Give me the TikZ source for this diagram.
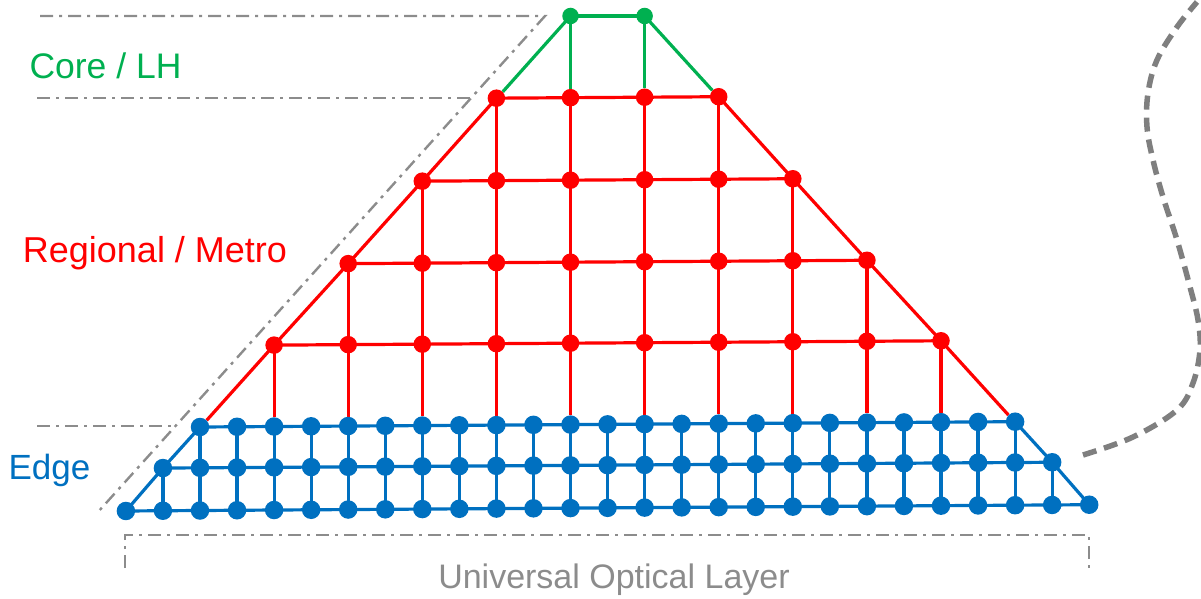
\documentclass[tikz,border=0pt]{standalone}
\usepackage{fontspec}
\setmainfont{Liberation Sans}
\usetikzlibrary{backgrounds}
\definecolor{cgreen}{HTML}{00B050}
\definecolor{cred}{HTML}{FF0000}
\definecolor{cblue}{HTML}{0070C0}
\definecolor{cgray}{HTML}{8C8C8C}
\definecolor{cdgray}{HTML}{7F7F7F}
\tikzset{
  bdot/.style={circle,fill=cblue,inner sep=0pt,minimum size=18.5pt},
  rdot/.style={circle,fill=cred,inner sep=0pt,minimum size=17.5pt},
  gdot/.style={circle,fill=cgreen,inner sep=0pt,minimum size=16.5pt},
  bline/.style={draw=cblue,line width=3.2pt},
  rline/.style={draw=cred,line width=3.2pt},
  gline/.style={draw=cgreen,line width=3.2pt},
  ddline/.style={draw=cgray,line width=2.4pt,dash pattern=on 13pt off 6pt on 3pt off 6pt},
  curveline/.style={draw=cdgray,line width=5.5pt,dash pattern=on 14pt off 8pt},
  lbl/.style={inner sep=0pt,anchor=center},
}
\begin{document}
\begin{tikzpicture}[x=1pt,y=-1pt]
\useasboundingbox (0,0) rectangle (1201,599);
% blue rows
\foreach \k in {2,...,24}{
  \pgfmathsetmacro\xx{125.9+37.05*\k}
  \pgfmathsetmacro\yy{424.4-0.0065*(\xx-600)}
  \node[bdot] (bA-\k) at (\xx,\yy) {};}
\foreach \k in {1,...,25}{
  \pgfmathsetmacro\xx{125.9+37.05*\k}
  \pgfmathsetmacro\yy{465.2-0.0065*(\xx-600)}
  \node[bdot] (bB-\k) at (\xx,\yy) {};}
\foreach \k in {0,...,26}{
  \pgfmathsetmacro\xx{125.9+37.05*\k}
  \pgfmathsetmacro\yy{507.9-0.0065*(\xx-600)}
  \node[bdot] (bC-\k) at (\xx,\yy) {};}
% red rows
\foreach \k in {4,6,...,22}{
  \pgfmathsetmacro\xx{125.9+37.05*\k}
  \pgfmathsetmacro\yy{343-0.0065*(\xx-600)}
  \node[rdot] (rA-\k) at (\xx,\yy) {};}
\foreach \k in {6,8,...,20}{
  \pgfmathsetmacro\xx{125.9+37.05*\k}
  \pgfmathsetmacro\yy{262-0.0065*(\xx-600)}
  \node[rdot] (rB-\k) at (\xx,\yy) {};}
\foreach \k in {8,10,...,18}{
  \pgfmathsetmacro\xx{125.9+37.05*\k}
  \pgfmathsetmacro\yy{180-0.0065*(\xx-600)}
  \node[rdot] (rC-\k) at (\xx,\yy) {};}
\foreach \k in {10,12,...,16}{
  \pgfmathsetmacro\xx{125.9+37.05*\k}
  \pgfmathsetmacro\yy{97.5-0.0065*(\xx-600)}
  \node[rdot] (rD-\k) at (\xx,\yy) {};}
\foreach \k in {12,14}{
  \pgfmathsetmacro\xx{125.9+37.05*\k}
  \node[gdot] (gA-\k) at (\xx,16) {};}
\begin{scope}[on background layer]
% blue edges
\foreach \k [evaluate=\k as \n using int(\k+1)] in {2,...,23} \path[bline] (bA-\k.center) -- (bA-\n.center);
\foreach \k [evaluate=\k as \n using int(\k+1)] in {1,...,24} \path[bline] (bB-\k.center) -- (bB-\n.center);
\foreach \k [evaluate=\k as \n using int(\k+1)] in {0,...,25} \path[bline] (bC-\k.center) -- (bC-\n.center);
\foreach \k in {2,...,24} \path[bline] (bA-\k.center) -- (bB-\k.center);
\foreach \k in {1,...,25} \path[bline] (bB-\k.center) -- (bC-\k.center);
\path[bline] (bC-0.center) -- (bB-1.center) -- (bA-2.center);
\path[bline] (bC-26.center) -- (bB-25.center) -- (bA-24.center);
% red edges
\foreach \k [evaluate=\k as \n using int(\k+2)] in {4,6,...,20} \path[rline] (rA-\k.center) -- (rA-\n.center);
\foreach \k [evaluate=\k as \n using int(\k+2)] in {6,8,...,18} \path[rline] (rB-\k.center) -- (rB-\n.center);
\foreach \k [evaluate=\k as \n using int(\k+2)] in {8,10,...,16} \path[rline] (rC-\k.center) -- (rC-\n.center);
\foreach \k [evaluate=\k as \n using int(\k+2)] in {10,12,14} \path[rline] (rD-\k.center) -- (rD-\n.center);
\foreach \k in {4,6,...,22} \path[rline] (rA-\k.center) -- (bA-\k.north);
\foreach \k in {6,8,...,20} \path[rline] (rB-\k.center) -- (rA-\k.center);
\foreach \k in {8,10,...,18} \path[rline] (rC-\k.center) -- (rB-\k.center);
\foreach \k in {10,12,...,16} \path[rline] (rD-\k.center) -- (rC-\k.center);
\path[rline] (bA-2.north east) -- (rA-4.center) -- (rB-6.center) -- (rC-8.center) -- (rD-10.center);
\path[rline] (bA-24.north west) -- (rA-22.center) -- (rB-20.center) -- (rC-18.center) -- (rD-16.center);
% green edges
\path[gline] (gA-12.center) -- (gA-14.center);
\path[gline] (gA-12.center) -- (rD-12.north);
\path[gline] (gA-14.center) -- (rD-14.north);
\path[gline] (rD-10.north east) -- (gA-12.center);
\path[gline] (rD-16.north west) -- (gA-14.center);
\end{scope}
% dash-dot guides
\coordinate (t1) at (40,16);
\coordinate (t2) at (545,16);
\coordinate (t3) at (98,512);
\coordinate (h2a) at (37,98);
\coordinate (h2b) at (471,98);
\coordinate (h3a) at (37,426);
\coordinate (h3b) at (175,426);
\coordinate (u1) at (125,568);
\coordinate (u2) at (125,535);
\coordinate (u3) at (1089,535);
\coordinate (u4) at (1089,568);
\path[ddline] (t1) -- (t2) -- (t3);
\path[ddline] (h2a) -- (h2b);
\path[ddline] (h3a) -- (h3b);
\path[ddline] (u1) -- (u2) -- (u3) -- (u4);
% dashed curve
\path[curveline] plot[smooth,tension=0.6] coordinates {(1083,455) (1133,437) (1177,410) (1193,383) (1200,350) (1198,320) (1190,287) (1177,240) (1163,197) (1153,160) (1147,127) (1148,93) (1157,60) (1177,27) (1197,2)};
% labels
\node[lbl,text=cgreen,font=\fontsize{35.5}{40}\selectfont] (lcore) at (105.5,66) {Core / LH};
\node[lbl,text=cred,font=\fontsize{36}{40}\selectfont] (lreg) at (155,253) {Regional / Metro};
\node[lbl,text=cblue,font=\fontsize{35}{40}\selectfont] (ledge) at (49.5,470) {Edge};
\node[lbl,text=cgray,font=\fontsize{34}{40}\selectfont] (luol) at (614,580) {Universal Optical Layer};
\end{tikzpicture}
\end{document}
